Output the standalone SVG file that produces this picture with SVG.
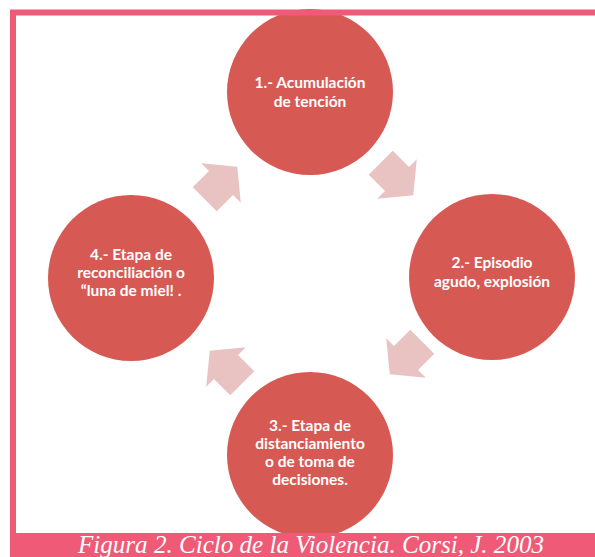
<svg xmlns="http://www.w3.org/2000/svg" width="595" height="557" viewBox="0 0 595 557">
<defs>
<style>
.circ{fill:#D75953;}
.lbl{font-family:Lato,"Open Sans","DejaVu Sans",sans-serif;font-size:15.5px;font-weight:bold;fill:#FFFFFF;text-anchor:middle;}
.arr{fill:#E8C3C2;}
.cap{font-family:"Liberation Serif","DejaVu Serif",serif;font-style:italic;font-size:25px;fill:#FFFFFF;}
</style>
<polygon id="arrowShape" points="-23,-17 0,-17 0,-28 23,0 0,28 0,17 -23,17"/>
</defs>
<rect x="0" y="0" width="595" height="557" fill="#FFFFFF"/>
<g id="connectors">
<use href="#arrowShape" class="arr" transform="translate(221,183) rotate(-45)"/>
<use href="#arrowShape" class="arr" transform="translate(397,179) rotate(45)"/>
<use href="#arrowShape" class="arr" transform="translate(406,358) rotate(135)"/>
<use href="#arrowShape" class="arr" transform="translate(226,367) rotate(-135)"/>
</g>
<g id="node1">
<circle class="circ" cx="310" cy="92" r="83"/>
<text class="lbl" x="310" y="88">1.- Acumulación</text>
<text class="lbl" x="310" y="107">de tención</text>
</g>
<g id="node2">
<circle class="circ" cx="492" cy="277" r="83"/>
<text class="lbl" x="492" y="268">2.- Episodio</text>
<text class="lbl" x="492" y="287">agudo, explosión</text>
</g>
<g id="node3">
<circle class="circ" cx="310" cy="455" r="83"/>
<text class="lbl" x="310" y="431">3.- Etapa de</text>
<text class="lbl" x="310" y="449">distanciamiento</text>
<text class="lbl" x="310" y="467">o de toma de</text>
<text class="lbl" x="310" y="485">decisiones.</text>
</g>
<g id="node4">
<circle class="circ" cx="131" cy="278" r="83"/>
<text class="lbl" x="131" y="260">4.- Etapa de</text>
<text class="lbl" x="131" y="278">reconciliación o</text>
<text class="lbl" x="131" y="296">“luna de miel! .</text>
</g>
<g id="frame">
<rect x="13" y="12.5" width="600" height="530" fill="none" stroke="#EF5A77" stroke-width="6"/>
<rect x="10" y="533" width="585" height="24" fill="#EF5A77"/>
<text class="cap" x="78" y="553" textLength="466" lengthAdjust="spacingAndGlyphs">Figura 2. Ciclo de la Violencia. Corsi, J. 2003</text>
</g>
</svg>
